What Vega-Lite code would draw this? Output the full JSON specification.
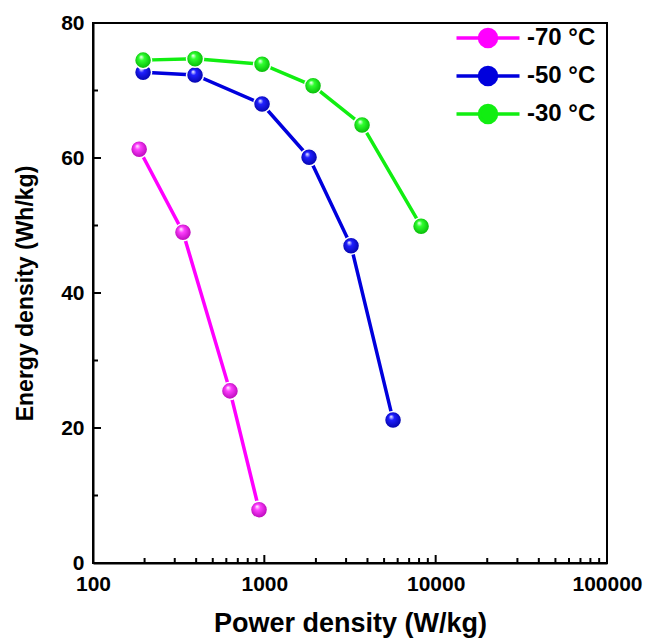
{
  "$schema": "https://vega.github.io/schema/vega-lite/v6.json",
  "autosize": "none",
  "width": 514,
  "height": 540,
  "padding": {"left": 93, "top": 23, "right": 39, "bottom": 75},
  "background": "white",
  "config": {
    "font": "Liberation Sans",
    "view": {"stroke": "black", "strokeWidth": 2},
    "axis": {"grid": false, "domainColor": "black", "domainWidth": 2,
             "labelFont": "Liberation Sans", "labelFontWeight": "bold", "labelColor": "black",
             "titleFont": "Liberation Sans", "titleFontWeight": "bold", "titleColor": "black"}
  },
  "datasets": {
    "curves": [
      {"series": "-70 °C", "power": 186, "energy": 61.3},
      {"series": "-70 °C", "power": 335, "energy": 49.0},
      {"series": "-70 °C", "power": 630, "energy": 25.5},
      {"series": "-70 °C", "power": 931, "energy": 7.9},
      {"series": "-50 °C", "power": 196, "energy": 72.7},
      {"series": "-50 °C", "power": 394, "energy": 72.3},
      {"series": "-50 °C", "power": 970, "energy": 68.0},
      {"series": "-50 °C", "power": 1824, "energy": 60.1},
      {"series": "-50 °C", "power": 3207, "energy": 47.0},
      {"series": "-50 °C", "power": 5640, "energy": 21.2},
      {"series": "-30 °C", "power": 196, "energy": 74.5},
      {"series": "-30 °C", "power": 394, "energy": 74.7},
      {"series": "-30 °C", "power": 970, "energy": 73.9},
      {"series": "-30 °C", "power": 1924, "energy": 70.7},
      {"series": "-30 °C", "power": 3718, "energy": 64.9},
      {"series": "-30 °C", "power": 8220, "energy": 49.9}
    ],
    "xMajor": [{"power": 1000}, {"power": 10000}],
    "xMinor": [
      {"power": 200}, {"power": 300}, {"power": 400}, {"power": 500}, {"power": 600}, {"power": 700}, {"power": 800}, {"power": 900},
      {"power": 2000}, {"power": 3000}, {"power": 4000}, {"power": 5000}, {"power": 6000}, {"power": 7000}, {"power": 8000}, {"power": 9000},
      {"power": 20000}, {"power": 30000}, {"power": 40000}, {"power": 50000}, {"power": 60000}, {"power": 70000}, {"power": 80000}, {"power": 90000}
    ],
    "yMajor": [{"energy": 20}, {"energy": 40}, {"energy": 60}],
    "yMinor": [{"energy": 10}, {"energy": 30}, {"energy": 50}, {"energy": 70}]
  },
  "data": {"name": "curves"},
  "layer": [
    {
      "data": {"name": "xMajor"},
      "mark": {"type": "tick", "orient": "vertical", "size": 8, "thickness": 2, "yOffset": -4, "color": "black", "opacity": 1},
      "encoding": {
        "x": {"field": "power", "type": "quantitative"},
        "y": {"datum": 0, "type": "quantitative"}
      }
    },
    {
      "data": {"name": "xMinor"},
      "mark": {"type": "tick", "orient": "vertical", "size": 5, "thickness": 2, "yOffset": -2.5, "color": "black", "opacity": 1},
      "encoding": {
        "x": {"field": "power", "type": "quantitative"},
        "y": {"datum": 0, "type": "quantitative"}
      }
    },
    {
      "data": {"name": "yMajor"},
      "mark": {"type": "tick", "orient": "horizontal", "size": 8, "thickness": 2, "xOffset": 4, "color": "black", "opacity": 1},
      "encoding": {
        "x": {"datum": 100, "type": "quantitative"},
        "y": {"field": "energy", "type": "quantitative"}
      }
    },
    {
      "data": {"name": "yMinor"},
      "mark": {"type": "tick", "orient": "horizontal", "size": 5, "thickness": 2, "xOffset": 2.5, "color": "black", "opacity": 1},
      "encoding": {
        "x": {"datum": 100, "type": "quantitative"},
        "y": {"field": "energy", "type": "quantitative"}
      }
    },
    {
      "mark": {"type": "line", "strokeWidth": 3.5},
      "encoding": {
        "x": {"field": "power", "type": "quantitative",
              "scale": {"type": "log", "domain": [100, 100000], "nice": false},
              "axis": {"orient": "bottom", "values": [100, 1000, 10000, 100000], "format": "d", "labelFlush": false,
                       "ticks": false, "labelPadding": 10, "labelFontSize": 21,
                       "title": "Power density (W/kg)", "titleFontSize": 27, "titlePadding": 16}},
        "y": {"field": "energy", "type": "quantitative",
              "scale": {"domain": [0, 80], "nice": false},
              "axis": {"orient": "left", "values": [0, 20, 40, 60, 80], "labelFlush": false,
                       "ticks": false, "labelPadding": 9, "labelFontSize": 21,
                       "title": "Energy density (Wh/kg)", "titleFontSize": 23, "titlePadding": 23}},
        "color": {"field": "series", "type": "nominal",
                  "scale": {"domain": ["-70 °C", "-50 °C", "-30 °C"], "range": ["#ff00ff", "#0000dd", "#11ee11"]},
                  "legend": {"title": null, "orient": "none", "legendX": 383, "legendY": 3, "padding": 0,
                             "labelFontSize": 24, "labelFontWeight": "bold", "labelColor": "black",
                             "labelOffset": 27, "rowPadding": 6,
                             "symbolType": "M-3.15,0H-0.85M0.85,0H3.15M-0.85,0A0.85,0.85,0,1,1,0.85,0A0.85,0.85,0,1,1,-0.85,0Z",
                             "symbolSize": 400, "symbolStrokeWidth": 3.5,
                             "encode": {"symbols": {"update": {"fill": {"scale": "color", "field": "value"},
                                                                 "stroke": {"scale": "color", "field": "value"}}}}}},
        "order": {"field": "power", "type": "quantitative"}
      }
    },
    {
      "transform": [{"filter": "datum.series === '-70 °C'"}],
      "mark": {"type": "point", "filled": true, "size": 290, "opacity": 1, "stroke": "white", "strokeWidth": 1.5,
               "fill": {"gradient": "radial", "x1": 0.38, "y1": 0.3, "r1": 0, "x2": 0.5, "y2": 0.5, "r2": 0.55,
                        "stops": [{"offset": 0, "color": "#ffffff"}, {"offset": 0.3, "color": "#ff40ff"}, {"offset": 1, "color": "#b000b0"}]}},
      "encoding": {
        "x": {"field": "power", "type": "quantitative"},
        "y": {"field": "energy", "type": "quantitative"}
      }
    },
    {
      "transform": [{"filter": "datum.series === '-50 °C'"}],
      "mark": {"type": "point", "filled": true, "size": 290, "opacity": 1, "stroke": "white", "strokeWidth": 1.5,
               "fill": {"gradient": "radial", "x1": 0.38, "y1": 0.3, "r1": 0, "x2": 0.5, "y2": 0.5, "r2": 0.55,
                        "stops": [{"offset": 0, "color": "#ffffff"}, {"offset": 0.3, "color": "#2020ff"}, {"offset": 1, "color": "#0000a0"}]}},
      "encoding": {
        "x": {"field": "power", "type": "quantitative"},
        "y": {"field": "energy", "type": "quantitative"}
      }
    },
    {
      "transform": [{"filter": "datum.series === '-30 °C'"}],
      "mark": {"type": "point", "filled": true, "size": 290, "opacity": 1, "stroke": "white", "strokeWidth": 1.5,
               "fill": {"gradient": "radial", "x1": 0.38, "y1": 0.3, "r1": 0, "x2": 0.5, "y2": 0.5, "r2": 0.55,
                        "stops": [{"offset": 0, "color": "#ffffff"}, {"offset": 0.3, "color": "#30ff30"}, {"offset": 1, "color": "#00b000"}]}},
      "encoding": {
        "x": {"field": "power", "type": "quantitative"},
        "y": {"field": "energy", "type": "quantitative"}
      }
    }
  ]
}
